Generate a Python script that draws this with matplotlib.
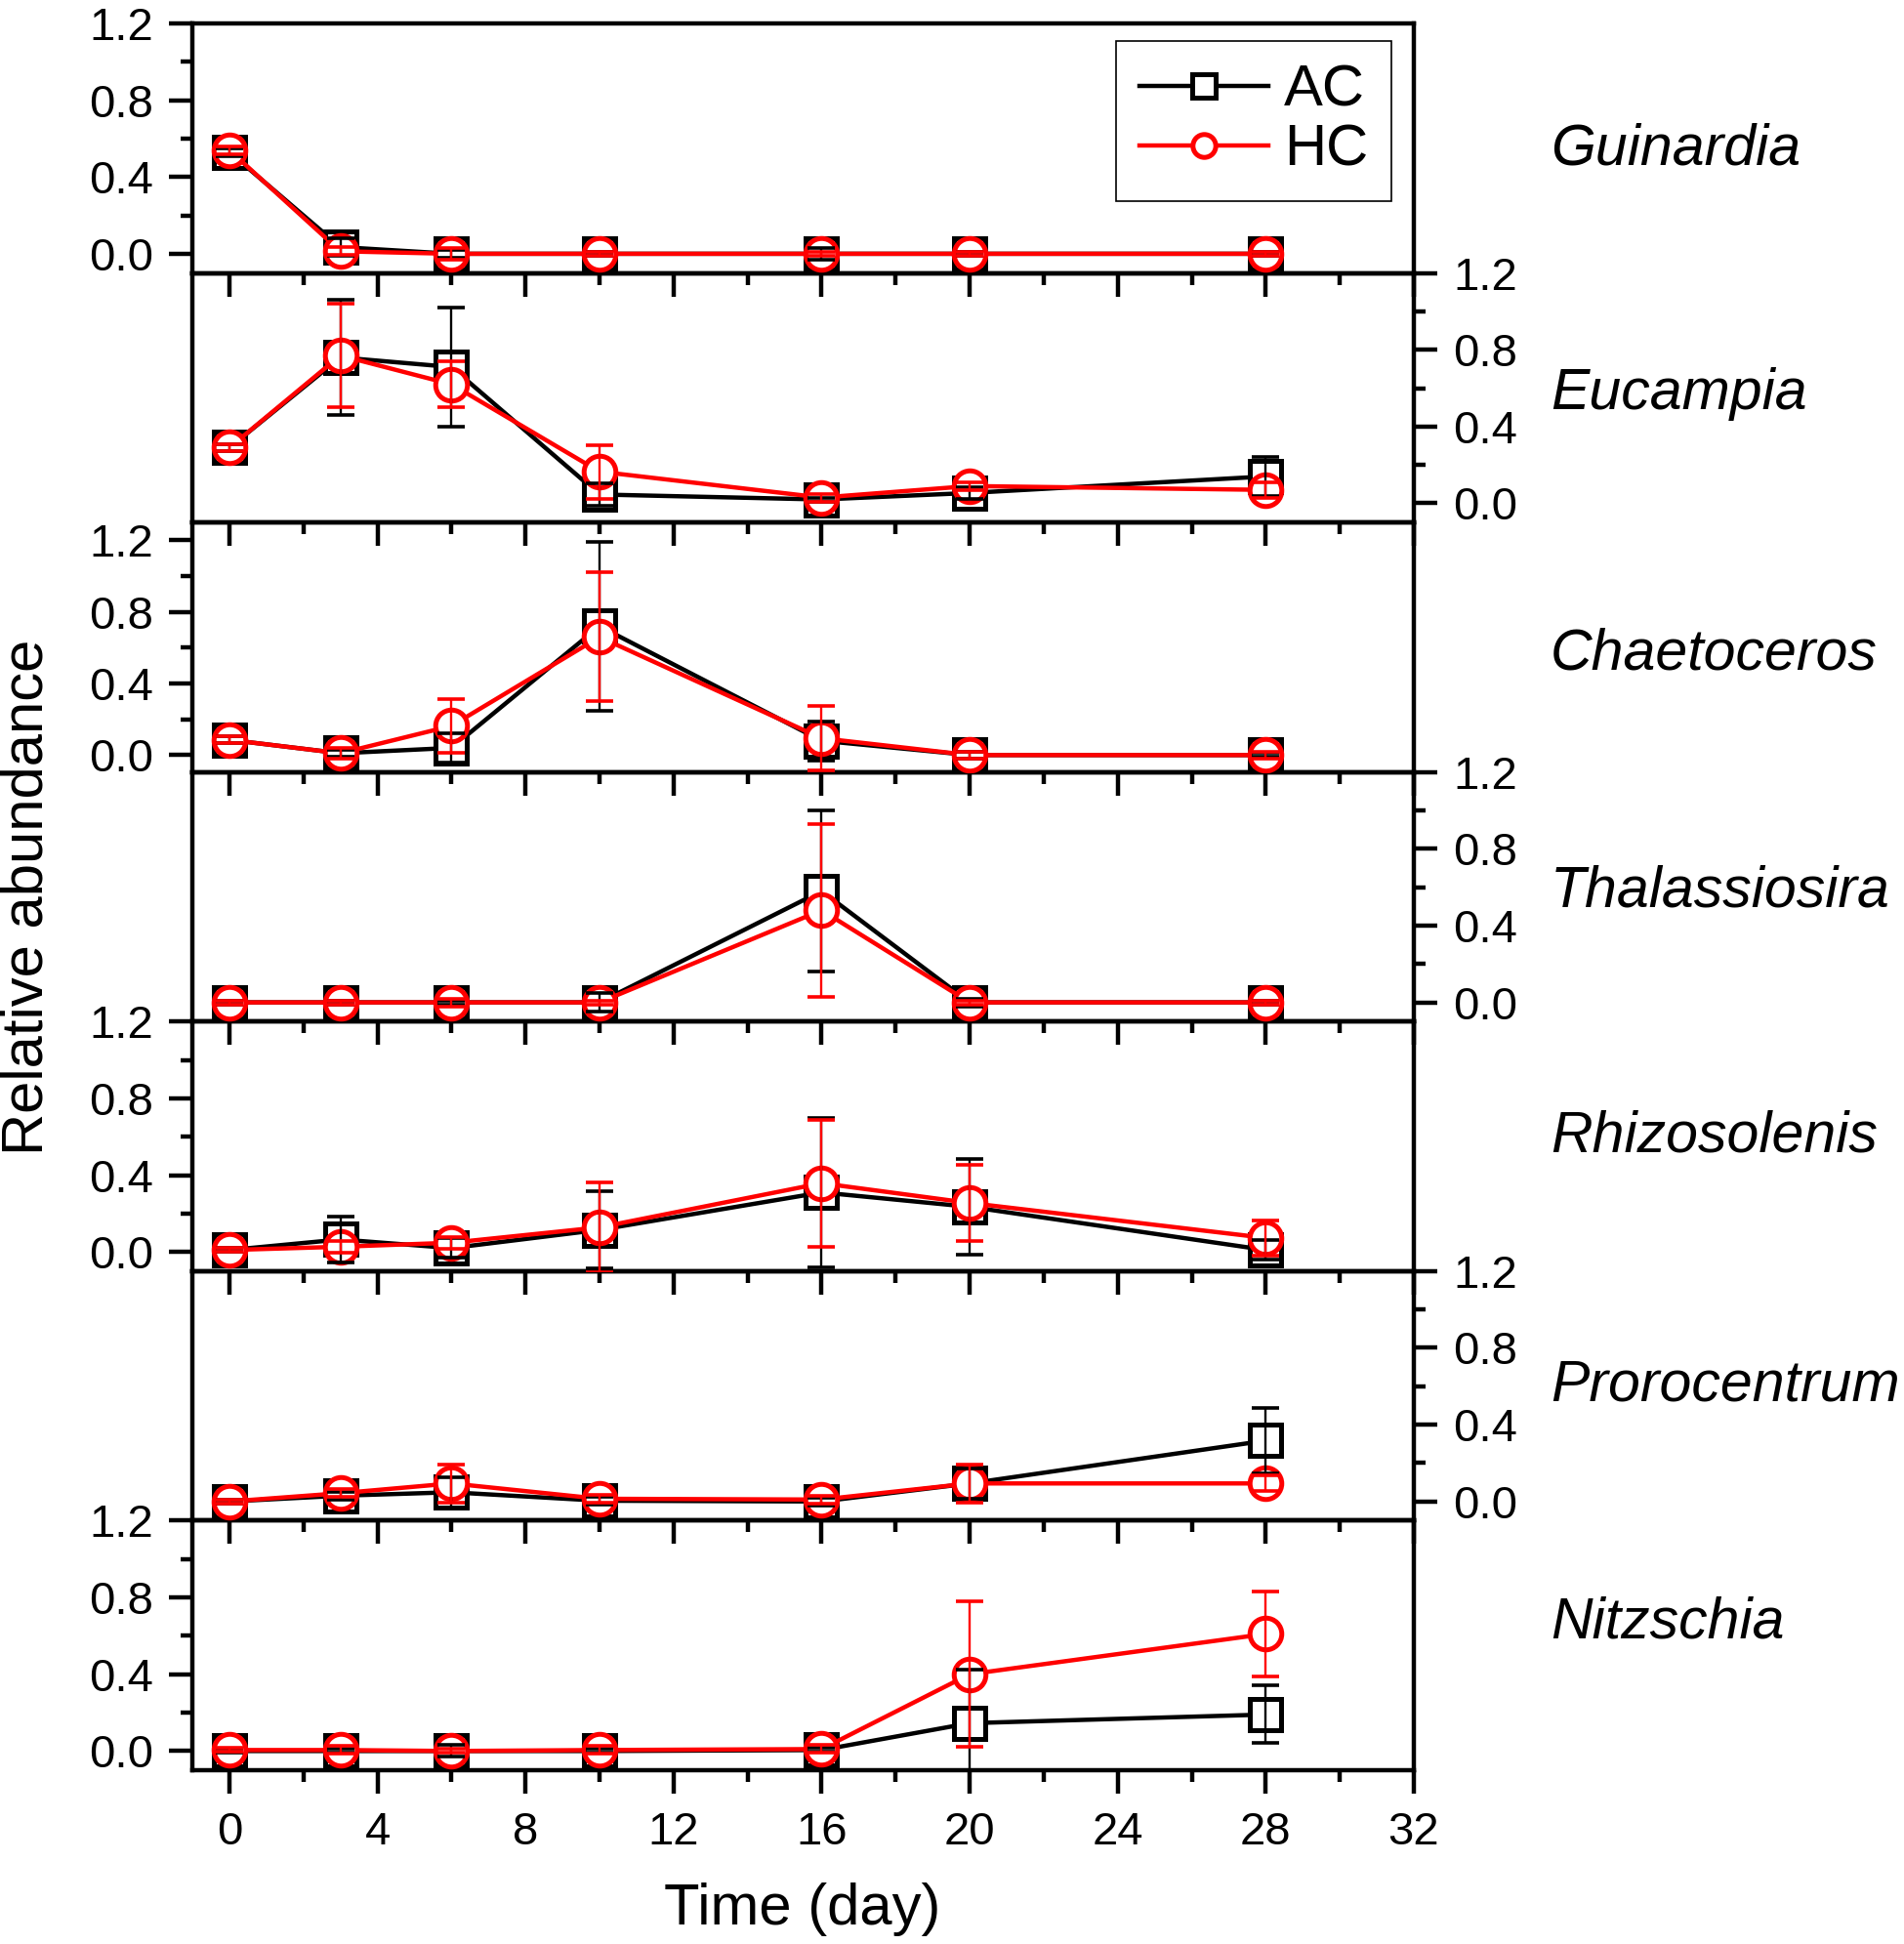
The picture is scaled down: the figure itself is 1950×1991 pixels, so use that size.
import matplotlib
matplotlib.use("Agg")
import matplotlib.pyplot as plt
from matplotlib.ticker import MultipleLocator
from matplotlib.lines import Line2D

plt.rcParams['font.family'] = ['Liberation Sans', 'DejaVu Sans']

days = [0, 3, 6, 10, 16, 20, 28]
genera = ['Guinardia', 'Eucampia', 'Chaetoceros', 'Thalassiosira',
          'Rhizosolenis', 'Prorocentrum', 'Nitzschia']

ac_mean = [
    [0.53, 0.035, 0.0, 0.0, 0.0, 0.0, 0.0],
    [0.29, 0.76, 0.71, 0.046, 0.02, 0.054, 0.14],
    [0.085, 0.01, 0.04, 0.72, 0.08, 0.0, 0.0],
    [0.0, 0.0, 0.0, 0.0, 0.58, 0.0, 0.0],
    [0.01, 0.065, 0.02, 0.115, 0.31, 0.235, 0.01],
    [0.0, 0.03, 0.048, 0.004, 0.0, 0.094, 0.317],
    [0.0, 0.0, 0.0, 0.0, 0.005, 0.145, 0.19],
]
ac_err = [
    [0.02, 0.045, 0.02, 0.01, 0.03, 0.01, 0.01],
    [0.02, 0.30, 0.31, 0.06, 0.01, 0.03, 0.10],
    [0.02, 0.02, 0.08, 0.47, 0.11, 0.02, 0.01],
    [0.01, 0.01, 0.01, 0.05, 0.42, 0.02, 0.01],
    [0.01, 0.12, 0.05, 0.20, 0.39, 0.25, 0.05],
    [0.01, 0.02, 0.08, 0.02, 0.02, 0.08, 0.17],
    [0.01, 0.01, 0.03, 0.01, 0.01, 0.28, 0.15],
]
hc_mean = [
    [0.54, 0.013, 0.0, 0.0, 0.0, 0.0, 0.0],
    [0.29, 0.77, 0.62, 0.165, 0.03, 0.09, 0.07],
    [0.085, 0.01, 0.163, 0.66, 0.094, 0.0, 0.0],
    [0.0, 0.0, 0.0, 0.0, 0.48, 0.0, 0.0],
    [0.01, 0.027, 0.048, 0.128, 0.358, 0.255, 0.073],
    [0.0, 0.043, 0.094, 0.014, 0.01, 0.094, 0.094],
    [0.005, 0.005, 0.0, 0.005, 0.01, 0.40, 0.61],
]
hc_err = [
    [0.02, 0.02, 0.03, 0.01, 0.01, 0.01, 0.01],
    [0.02, 0.27, 0.12, 0.14, 0.02, 0.02, 0.04],
    [0.02, 0.03, 0.15, 0.36, 0.18, 0.02, 0.02],
    [0.01, 0.01, 0.02, 0.01, 0.45, 0.01, 0.01],
    [0.01, 0.03, 0.03, 0.235, 0.33, 0.20, 0.09],
    [0.01, 0.02, 0.10, 0.02, 0.02, 0.10, 0.04],
    [0.01, 0.02, 0.01, 0.02, 0.02, 0.38, 0.22],
]
series_labels = ['AC', 'HC']
yticks = [0.0, 0.4, 0.8, 1.2]
xticks = [0, 4, 8, 12, 16, 20, 24, 28, 32]

# layout
ylims = [(-0.1, 1.2), (-0.1, 1.2), (-0.095, 1.3), (-0.1, 1.2),
         (-0.1, 1.2), (-0.1, 1.2), (-0.1, 1.2)]
label_y = [0.434, 0.455, 0.41, 0.46, 0.48, 0.48, 0.53]

fig = plt.figure(figsize=(19.5, 19.91), dpi=100)
fig.patch.set_facecolor('white')
left, right = 197 / 1950, 1448 / 1950
top, bottom = 1 - 24 / 1991, 1 - 1813 / 1991
n = len(genera)
h = (top - bottom) / n

FS_TICK = 34
FS_TEXT = 43
FS_GENUS = 42.5
MS = 23.4
MEW = 3.6
LW = 3.2

axes = []
for i in range(n):
    ax = fig.add_axes([left, top - (i + 1) * h, right - left, h])
    ax.patch.set_visible(False)
    ax.set_zorder(10 + (n - i))
    axes.append(ax)
    colors = ['black', 'red']
    markers = ['s', 'o']
    means = [ac_mean[i], hc_mean[i]]
    errs = [ac_err[i], hc_err[i]]
    for k in range(2):
        ax.plot(days, means[k], color=colors[k], lw=LW, marker=markers[k],
                ms=MS, mew=MEW, mfc='white', mec=colors[k], zorder=2 + k)
    for k in range(2):
        ax.errorbar(days, means[k], yerr=errs[k], fmt='none', ecolor=colors[k],
                    elinewidth=1.7, capsize=10, capthick=2.6, zorder=4 + k)
    ax.set_xlim(-1, 32)
    ax.set_ylim(*ylims[i])
    ax.xaxis.set_major_locator(MultipleLocator(4))
    ax.xaxis.set_minor_locator(MultipleLocator(2))
    ax.set_yticks(yticks)
    ax.yaxis.set_minor_locator(MultipleLocator(0.2))
    for s in ax.spines.values():
        s.set_linewidth(3.2)
    right_side = (i % 2 == 1)
    ax.tick_params(axis='both', which='major', direction='out', length=17,
                   width=3.2, labelsize=FS_TICK, pad=12)
    ax.tick_params(axis='both', which='minor', direction='out', length=8.5,
                   width=3.2)
    ax.tick_params(axis='x', which='both', top=False, bottom=True,
                   labelbottom=(i == n - 1))
    ax.tick_params(axis='y', which='both', left=not right_side,
                   labelleft=not right_side, right=right_side,
                   labelright=right_side)
    ax.yaxis.set_major_formatter(plt.FuncFormatter(lambda v, p: f"{v:.1f}"))
    ax.text(1.112, label_y[i], genera[i], transform=ax.transAxes,
            fontsize=FS_GENUS, style='italic', ha='left', va='baseline')

axes[-1].set_xticks(xticks)
axes[-1].tick_params(axis='x', pad=13)

handles = [Line2D([0], [0], color='black', lw=LW, marker='s', ms=MS, mew=MEW,
                  mfc='white', mec='black'),
           Line2D([0], [0], color='red', lw=LW, marker='o', ms=MS, mew=MEW,
                  mfc='white', mec='red')]
leg = axes[0].legend(handles, series_labels, loc='upper right',
                     bbox_to_anchor=(0.982, 0.93), fontsize=FS_TEXT,
                     frameon=True, fancybox=False, edgecolor='black',
                     framealpha=1, markerscale=0.72, handlelength=2.2,
                     handletextpad=0.28, borderpad=0.4, labelspacing=0.1,
                     borderaxespad=0)
leg.get_frame().set_linewidth(1.2)

fig.text(0.0145, 0.5387, 'Relative abundance', rotation=90, fontsize=FS_TEXT,
         ha='center', va='center')
fig.text(0.4215, 0.018, 'Time (day)', fontsize=FS_TEXT, ha='center',
         va='center')

fig.savefig('out.png', dpi=100, facecolor='white')
